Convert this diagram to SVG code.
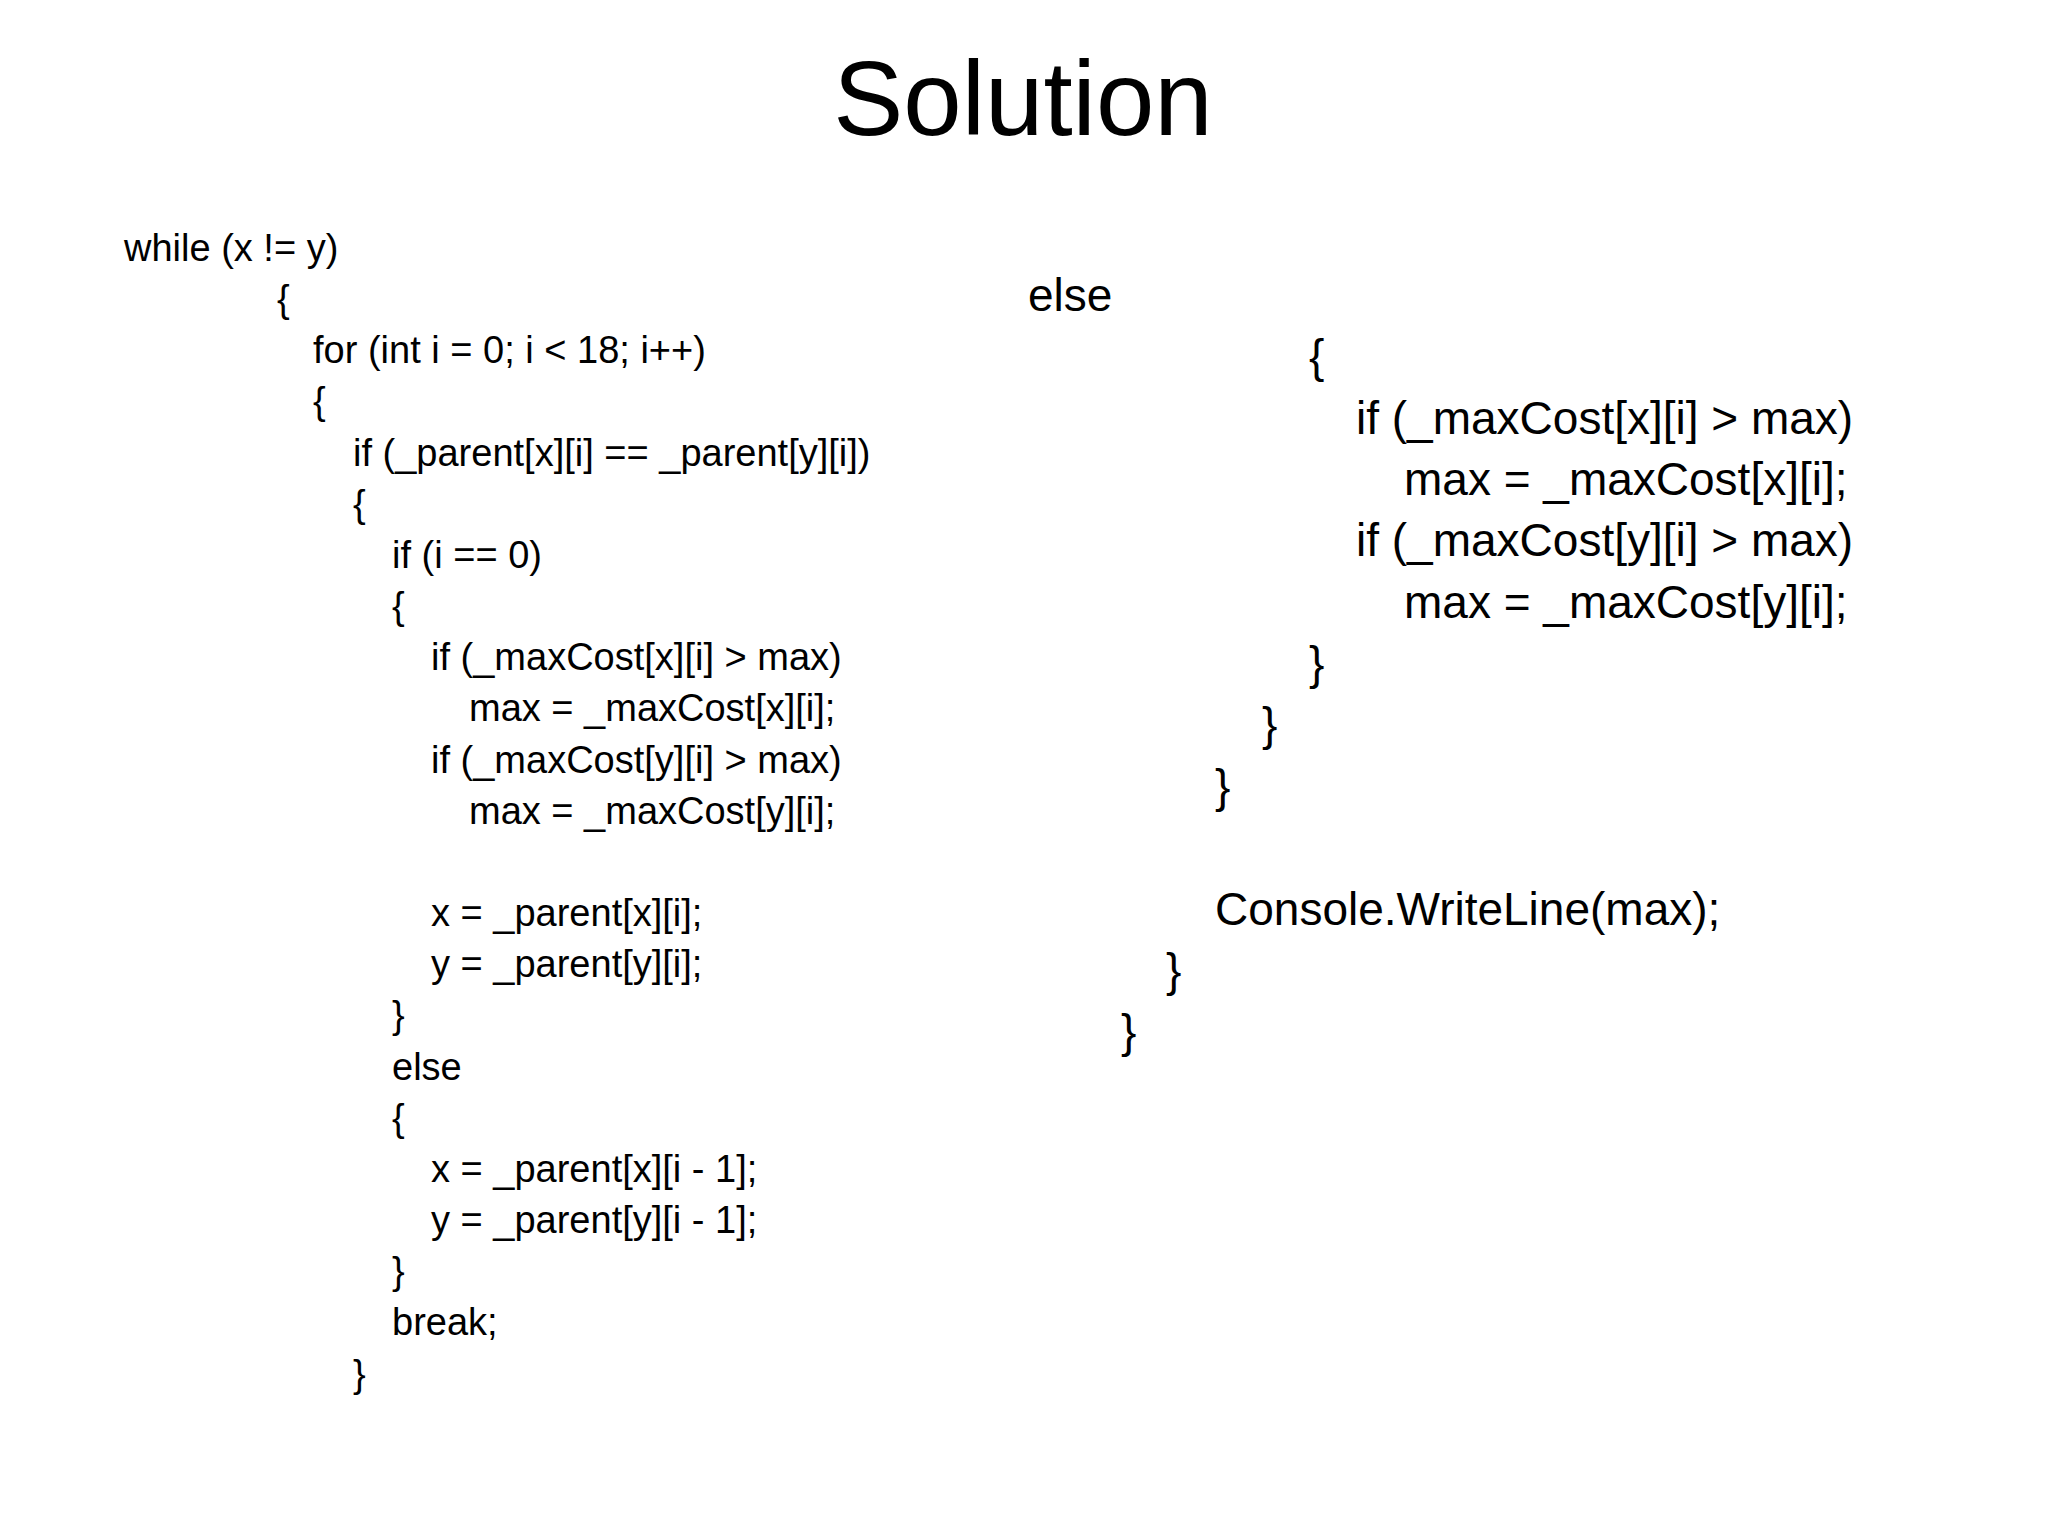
<svg xmlns="http://www.w3.org/2000/svg" width="2048" height="1536" viewBox="0 0 2048 1536">
<style>
text{font-family:"Liberation Sans",Arial,sans-serif;fill:#000}
.l{font-size:38px}
.r{font-size:46px}
</style>
<rect width="2048" height="1536" fill="#fff"/>
<text x="1023" y="135" font-size="105" text-anchor="middle">Solution</text>
<g id="left" class="l">
<text x="124" y="261">while (x != y)</text>
<text x="277" y="312">{</text>
<text x="313" y="363">for (int i = 0; i &lt; 18; i++)</text>
<text x="313" y="414">{</text>
<text x="353" y="466">if (_parent[x][i] == _parent[y][i])</text>
<text x="353" y="517">{</text>
<text x="392" y="568">if (i == 0)</text>
<text x="392" y="619">{</text>
<text x="431" y="670">if (_maxCost[x][i] &gt; max)</text>
<text x="469" y="721">max = _maxCost[x][i];</text>
<text x="431" y="773">if (_maxCost[y][i] &gt; max)</text>
<text x="469" y="824">max = _maxCost[y][i];</text>
<text x="431" y="926">x = _parent[x][i];</text>
<text x="431" y="977">y = _parent[y][i];</text>
<text x="392" y="1028">}</text>
<text x="392" y="1080">else</text>
<text x="392" y="1131">{</text>
<text x="431" y="1182">x = _parent[x][i - 1];</text>
<text x="431" y="1233">y = _parent[y][i - 1];</text>
<text x="392" y="1284">}</text>
<text x="392" y="1335">break;</text>
<text x="353" y="1387">}</text>
</g>
<g id="right" class="r">
<text x="1028" y="311">else</text>
<text x="1309" y="372">{</text>
<text x="1356" y="434">if (_maxCost[x][i] &gt; max)</text>
<text x="1404" y="495">max = _maxCost[x][i];</text>
<text x="1356" y="556">if (_maxCost[y][i] &gt; max)</text>
<text x="1404" y="618">max = _maxCost[y][i];</text>
<text x="1309" y="679">}</text>
<text x="1262" y="740">}</text>
<text x="1215" y="802">}</text>
<text x="1215" y="925">Console.WriteLine(max);</text>
<text x="1166" y="986">}</text>
<text x="1121" y="1047">}</text>
</g>
</svg>
